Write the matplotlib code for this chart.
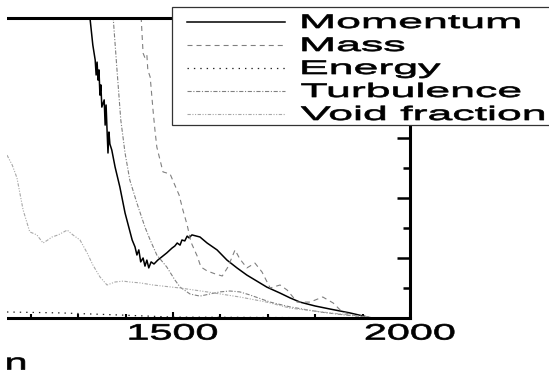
import matplotlib
matplotlib.use('Agg')
import matplotlib.pyplot as plt
from matplotlib.patheffects import AbstractPathEffect
from matplotlib.transforms import Affine2D
from matplotlib.lines import Line2D
from matplotlib.patches import Rectangle
from matplotlib.ticker import MultipleLocator, FixedLocator

# ---------------- data ----------------
series_names = ["Momentum", "Mass", "Energy", "Turbulence", "Void fraction"]

momentum_x = [1321, 1325, 1331, 1336, 1338, 1340, 1342, 1344, 1346, 1348, 1350,
              1355, 1357, 1359, 1361, 1363, 1365, 1367, 1371, 1378, 1388, 1399,
              1414, 1420, 1424, 1428, 1432, 1437, 1441, 1445, 1449, 1454, 1460,
              1468, 1487, 1498, 1504, 1509, 1515, 1519, 1525, 1530, 1534, 1540,
              1557, 1572, 1593, 1614, 1635, 1656, 1677, 1698, 1726, 1747, 1768,
              1800, 1831, 1873, 1911]
momentum_y = [1.093, 1.0, 0.91, 0.86, 0.81, 0.853, 0.793, 0.827, 0.743, 0.777, 0.703,
              0.727, 0.643, 0.71, 0.627, 0.55, 0.62, 0.58, 0.56, 0.503, 0.437, 0.35,
              0.26, 0.237, 0.21, 0.227, 0.187, 0.2, 0.173, 0.193, 0.167, 0.187, 0.18,
              0.193, 0.217, 0.233, 0.24, 0.25, 0.243, 0.26, 0.257, 0.273, 0.267, 0.277,
              0.27, 0.25, 0.227, 0.193, 0.167, 0.143, 0.123, 0.103, 0.083, 0.067, 0.053,
              0.04, 0.03, 0.017, 0.003]

mass_x = [1428, 1433, 1437, 1441, 1445, 1447, 1452, 1458, 1462, 1466, 1479, 1494,
          1504, 1513, 1521, 1530, 1538, 1551, 1559, 1572, 1589, 1604, 1616, 1631,
          1641, 1656, 1673, 1688, 1705, 1726, 1741, 1762, 1789, 1816, 1838, 1857,
          1888, 1916]
mass_y = [1.093, 1.0, 0.883, 0.867, 0.877, 0.827, 0.803, 0.693, 0.627, 0.57, 0.487, 0.48,
          0.443, 0.41, 0.36, 0.31, 0.253, 0.207, 0.17, 0.157, 0.147, 0.14, 0.17, 0.227,
          0.197, 0.167, 0.183, 0.153, 0.1, 0.11, 0.093, 0.053, 0.053, 0.07, 0.05, 0.02,
          0.007, 0.003]

energy_x = [1150, 1262, 1388, 1500, 1662, 1916]
energy_y = [0.02, 0.017, 0.01, 0.003, 0.002, 0.0]

turbulence_x = [1367, 1374, 1382, 1390, 1399, 1409, 1424, 1441, 1452, 1466, 1487,
                1504, 1515, 1536, 1557, 1578, 1599, 1620, 1641, 1662, 1705, 1747,
                1810, 1863, 1916]
turbulence_y = [1.093, 1.0, 0.827, 0.66, 0.55, 0.46, 0.383, 0.303, 0.26, 0.21, 0.17,
                0.127, 0.103, 0.08, 0.073, 0.08, 0.087, 0.09, 0.087, 0.077, 0.053, 0.037,
                0.02, 0.01, 0.003]

void_x = [1150, 1161, 1171, 1184, 1198, 1213, 1226, 1236, 1245, 1258, 1277, 1289,
          1304, 1319, 1331, 1346, 1361, 1378, 1395, 1409, 1431, 1458, 1515, 1572,
          1641, 1698, 1747, 1831, 1916]
void_y = [0.543, 0.51, 0.467, 0.36, 0.287, 0.277, 0.25, 0.26, 0.27, 0.277, 0.293, 0.277,
          0.26, 0.217, 0.177, 0.137, 0.11, 0.12, 0.123, 0.12, 0.117, 0.11, 0.1, 0.087,
          0.07, 0.053, 0.033, 0.017, 0.003]

x_major_ticks = [1500, 2000]
x_tick_labels = ["1500", "2000"]
x_label = "Iteration"

# ---------------- styles ----------------
styles = [
    dict(color="black", lw=1.1, ls="-"),
    dict(color="#808080", lw=0.8, ls=(0, (3.6, 2.9))),
    dict(color="#222222", lw=0.9, ls=(0, (1.0, 3.6))),
    dict(color="#808080", lw=0.8, ls=(0, (3.0, 1.2, 0.8, 1.2))),
    dict(color="#a8a8a8", lw=0.8, ls=(0, (2.4, 1.1, 0.8, 1.1, 0.8, 1.1))),
]

plt.rcParams['font.family'] = ['Liberation Sans', 'DejaVu Sans']
plt.rcParams['lines.scale_dashes'] = False


class StretchX(AbstractPathEffect):
    """Horizontally widen the glyphs of a text (the source font is wide)."""
    def __init__(self, sx, anchor='center', stroke=0.5):
        super().__init__()
        self.sx = sx
        self.anchor = anchor
        self.stroke = stroke

    def draw_path(self, renderer, gc, tpath, affine, rgbFace=None):
        ext = tpath.get_extents()
        if self.anchor == 'left':
            x0 = ext.x0
        elif self.anchor == 'right':
            x0 = ext.x1
        else:
            x0 = 0.5 * (ext.x0 + ext.x1)
        t = Affine2D().translate(-x0, 0).scale(self.sx, 1).translate(x0, 0) + affine
        gc0 = renderer.new_gc()
        gc0.copy_properties(gc)
        gc0.set_linewidth(self.stroke)
        if rgbFace is not None:
            gc0.set_foreground(rgbFace)
        renderer.draw_path(gc0, tpath, t, rgbFace)
        gc0.restore()


W, H = 549, 374
fig = plt.figure(figsize=(W / 100, H / 100), dpi=100)
ax = fig.add_axes([7 / W, 1 - 318 / H, 403 / W, 300 / H])

data = [(momentum_x, momentum_y), (mass_x, mass_y), (energy_x, energy_y),
        (turbulence_x, turbulence_y), (void_x, void_y)]
for (xs, ys), st in zip(data, styles):
    ax.plot(xs, ys, color=st["color"], lw=st["lw"], linestyle=st["ls"])

ax.set_xlim(1150, 2000)
ax.set_ylim(0, 1)

ax.spines['left'].set_visible(False)
for s in ['top', 'bottom', 'right']:
    ax.spines[s].set_linewidth(2.2)
    ax.spines[s].set_color('black')

ax.xaxis.set_major_locator(FixedLocator(x_major_ticks))
ax.set_xticklabels(x_tick_labels)
ax.xaxis.set_minor_locator(MultipleLocator(100))
ax.yaxis.set_major_locator(MultipleLocator(0.2))
ax.yaxis.set_minor_locator(MultipleLocator(0.1))
ax.yaxis.set_ticks_position('right')
ax.xaxis.set_ticks_position('bottom')
ax.tick_params(axis='x', which='major', direction='in', length=4.5, width=1.5,
               labelsize=16, pad=4)
ax.tick_params(axis='x', which='minor', direction='in', length=3.0, width=1.5)
ax.tick_params(axis='y', which='major', direction='in', length=9.4, width=1.8,
               labelright=False, labelleft=False)
ax.tick_params(axis='y', which='minor', direction='in', length=5.0, width=1.8)

for t in ax.xaxis.get_major_ticks():
    t.label1.set_path_effects([StretchX(1.86, 'center')])

# axis label (only its end is inside the picture)
fig.text(26.5 / W, 1 - 369.5 / H, x_label, ha='right', va='baseline', fontsize=16,
         path_effects=[StretchX(1.86, 'right')])

# the picture is cropped: a white margin hides everything left of x = 7 px
fig.add_artist(Rectangle((0, 0), 7 / W, 1, transform=fig.transFigure,
                         facecolor='white', edgecolor='none', zorder=20))

# legend box
leg_rect = Rectangle((172 / W, 1 - 125 / H), (620 - 172) / W, 118 / H,
                     transform=fig.transFigure, facecolor='white',
                     edgecolor='#333333', lw=0.9, zorder=5, clip_on=False)
fig.add_artist(leg_rect)
row_y = [21, 44, 67, 90, 113]
for name, st, ry in zip(series_names, styles, row_y):
    ln = Line2D([187 / W, 285 / W], [1 - (ry + 1) / H, 1 - (ry + 1) / H],
                transform=fig.transFigure, color=st["color"], lw=st["lw"],
                linestyle=st["ls"], zorder=6)
    fig.add_artist(ln)
    fig.text(301 / W, 1 - (ry + 7) / H, name, ha='left', va='baseline',
             fontsize=14.1, zorder=7, path_effects=[StretchX(2.28, 'left')])

fig.savefig('out.png', dpi=100)
